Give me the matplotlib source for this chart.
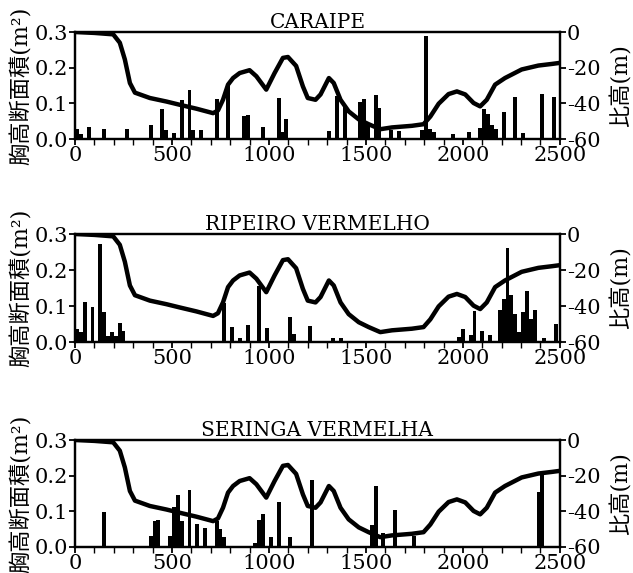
import numpy as np
import matplotlib.pyplot as plt
from matplotlib.ticker import MultipleLocator

plt.rcParams['font.family'] = ['DejaVu Serif', 'Noto Sans CJK JP']
plt.rcParams['axes.unicode_minus'] = False

# --- 地形 (比高, m) : 3 transects share the same profile ---
elev_x = [0, 100, 197, 231, 257, 283, 309, 386, 472, 540, 626, 712, 737, 763, 789,
          815, 849, 900, 935, 986, 1029, 1072, 1098, 1140, 1175, 1200, 1240, 1266,
          1309, 1334, 1369, 1411, 1463, 1514, 1574, 1634, 1737, 1797, 1832, 1875,
          1926, 1969, 2012, 2055, 2089, 2123, 2166, 2217, 2303, 2389, 2458, 2500]
elev_y = [0, -0.5, -1.3, -6, -15.4, -28.6, -34, -37, -39, -40.8, -43, -45.5, -44,
          -38, -29.5, -25.8, -23, -21.4, -24.8, -32.3, -23, -14.5, -14, -19, -30.5,
          -37, -38, -35, -25.8, -28.6, -38, -44.5, -49, -51.7, -54.5, -53.5, -52.6,
          -51.7, -47.4, -40.2, -34.8, -33.3, -35, -39.8, -41.7, -38, -29.5, -25.8,
          -21, -18.8, -17.9, -17.3]

# --- 胸高断面積 (m2) ---
caraipe_x = [10, 30, 70, 150, 270, 390, 450, 470, 510, 550, 590, 610, 650, 730, 790,
             870, 890, 970, 1050, 1070, 1090, 1310, 1350, 1390, 1470, 1490, 1510,
             1550, 1570, 1630, 1670, 1790, 1810, 1830, 1850, 1950, 2030, 2090, 2110,
             2130, 2150, 2170, 2210, 2270, 2310, 2410, 2470]
caraipe_y = [0.027, 0.015, 0.034, 0.027, 0.028, 0.039, 0.083, 0.025, 0.016, 0.109,
             0.138, 0.025, 0.026, 0.113, 0.155, 0.065, 0.067, 0.034, 0.116, 0.02,
             0.057, 0.023, 0.12, 0.096, 0.104, 0.112, 0.044, 0.124, 0.087, 0.025,
             0.023, 0.024, 0.288, 0.027, 0.02, 0.014, 0.02, 0.03, 0.084, 0.071, 0.04,
             0.029, 0.075, 0.118, 0.018, 0.127, 0.118]

ripeiro_x = [10, 30, 50, 90, 130, 150, 170, 190, 210, 230, 250, 770, 810, 850, 890,
             950, 990, 1110, 1130, 1210, 1330, 1370, 1980, 2000, 2040, 2060, 2100,
             2140, 2190, 2210, 2230, 2250, 2270, 2290, 2310, 2330, 2350, 2370, 2420,
             2480]
ripeiro_y = [0.036, 0.029, 0.111, 0.098, 0.273, 0.083, 0.016, 0.029, 0.016, 0.052,
             0.032, 0.107, 0.042, 0.011, 0.048, 0.156, 0.038, 0.069, 0.022, 0.045,
             0.011, 0.011, 0.014, 0.037, 0.02, 0.085, 0.032, 0.02, 0.088, 0.119,
             0.26, 0.13, 0.077, 0.028, 0.083, 0.141, 0.065, 0.09, 0.01, 0.049]

seringa_x = [150, 390, 410, 430, 490, 510, 530, 550, 590, 630, 670, 730, 750, 770,
             930, 950, 970, 1010, 1050, 1110, 1220, 1530, 1550, 1590, 1650, 1750,
             2390, 2410]
seringa_y = [0.098, 0.031, 0.072, 0.077, 0.031, 0.111, 0.147, 0.073, 0.159, 0.064,
             0.052, 0.073, 0.051, 0.027, 0.012, 0.075, 0.092, 0.028, 0.126, 0.027,
             0.189, 0.062, 0.17, 0.039, 0.103, 0.031, 0.153, 0.201]

sites = ['CARAIPE', 'RIPEIRO VERMELHO', 'SERINGA VERMELHA']
bars_x = [caraipe_x, ripeiro_x, seringa_x]
bars_y = [caraipe_y, ripeiro_y, seringa_y]

fig = plt.figure(figsize=(6.33, 5.73), dpi=100)
positions = [[0.1185, 0.7574, 0.766, 0.1867],
             [0.1185, 0.4031, 0.766, 0.1885],
             [0.1185, 0.0454, 0.766, 0.1867]]

for i in range(3):
    ax = fig.add_axes(positions[i])
    ax.bar(bars_x[i], bars_y[i], width=20, color='black', align='center')
    ax.set_xlim(0, 2500)
    ax.set_ylim(0, 0.3)
    ax.set_yticks([0.0, 0.1, 0.2, 0.3])
    ax.set_yticklabels(['0.0', '0.1', '0.2', '0.3'])
    ax.xaxis.set_major_locator(MultipleLocator(500))
    ax.xaxis.set_minor_locator(MultipleLocator(100))
    ax.tick_params(axis='both', which='major', labelsize=15, width=1.3, length=4,
                   direction='out', pad=1)
    ax.tick_params(axis='x', which='minor', width=1.0, length=4, direction='out')
    for s in ax.spines.values():
        s.set_linewidth(1.6)
    ax.set_ylabel('胸高断面積(m²)', fontsize=16, labelpad=1)
    ax.set_title(sites[i], fontsize=14.5, pad=3)

    ax2 = ax.twinx()
    ax2.plot(elev_x, elev_y, color='black', lw=3.2, solid_capstyle='round')
    ax2.set_ylim(-60, 0)
    ax2.set_yticks([0, -20, -40, -60])
    ax2.set_yticklabels(['0', '-20', '-40', '-60'])
    ax2.tick_params(axis='y', labelsize=15, width=1.3, length=4, direction='out', pad=1)
    ax2.set_ylabel('比高(m)', fontsize=16, labelpad=7)
    for s in ax2.spines.values():
        s.set_linewidth(1.6)

plt.savefig('out.png', dpi=100)
